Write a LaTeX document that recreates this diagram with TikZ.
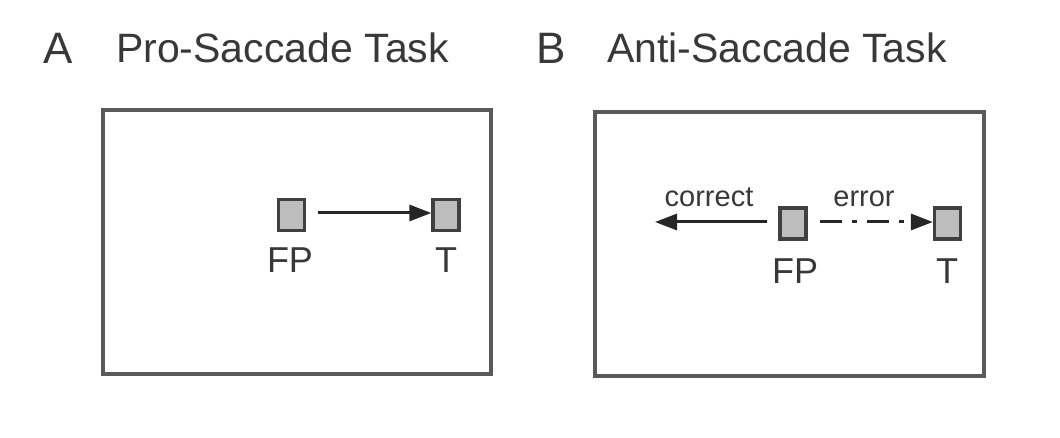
\documentclass[tikz,border=0pt]{standalone}
\usepackage{fontspec}
\setmainfont{Liberation Sans}
\usetikzlibrary{arrows.meta}
\definecolor{txt}{HTML}{383838}
\definecolor{frame}{HTML}{5A5A5A}
\definecolor{sqfill}{HTML}{BDBDBD}
\definecolor{sqedge}{HTML}{404040}
\begin{document}
\begin{tikzpicture}[x=1pt,y=-1pt,
  title/.style={anchor=base west,inner sep=0pt,text=txt,font=\fontsize{41}{41}\selectfont},
  panel/.style={draw=frame,line width=3.2pt},
  sq/.style={draw=sqedge,fill=sqfill,line width=3.2pt,minimum width=26pt,minimum height=31pt,inner sep=0pt},
  lbl/.style={inner sep=0pt,text=txt,font=\fontsize{36}{36}\selectfont},
  small/.style={anchor=base,inner sep=0pt,text=txt,font=\fontsize{29}{29}\selectfont},
  saccade/.style={draw=black!85,line width=3pt,-{Triangle[length=22pt,width=16pt]}}
]
\useasboundingbox (0,0) rectangle (1060,438);
% titles
\node[title,font=\fontsize{44}{44}\selectfont] (tA) at (43,64) {A};
\node[title] (tAt) at (116,63) {Pro-Saccade Task};
\node[title,font=\fontsize{44}{44}\selectfont] (tB) at (536,64) {B};
\node[title] (tBt) at (607,63) {Anti-Saccade Task};
% panels
\draw[panel] (103,110) rectangle (491,374);
\draw[panel] (595,112) rectangle (984,376);
% panel A
\node[sq] (afp) at (291.5,215) {};
\node[sq] (at) at (446,215) {};
\node[lbl] (afpl) at (290,260) {FP};
\node[lbl] (atl) at (446,260) {T};
\coordinate (astart) at (318,213);
\draw[saccade] (astart) -- (at.west |- astart);
% panel B
\node[sq] (bfp) at (793,223.5) {};
\node[sq] (bt) at (947.5,223.5) {};
\node[lbl] (bfpl) at (795,271) {FP};
\node[lbl] (btl) at (947,271) {T};
\coordinate (bcs) at (767,222);
\coordinate (bce) at (655,222);
\coordinate (bes) at (820,222);
\draw[saccade] (bcs) -- (bce);
\draw[saccade,dash pattern=on 22pt off 10pt on 5pt off 10pt] (bes) -- (bt.west |- bes);
\node[small] (corr) at (709,207) {correct};
\node[small] (err) at (864,207) {error};
\end{tikzpicture}
\end{document}
